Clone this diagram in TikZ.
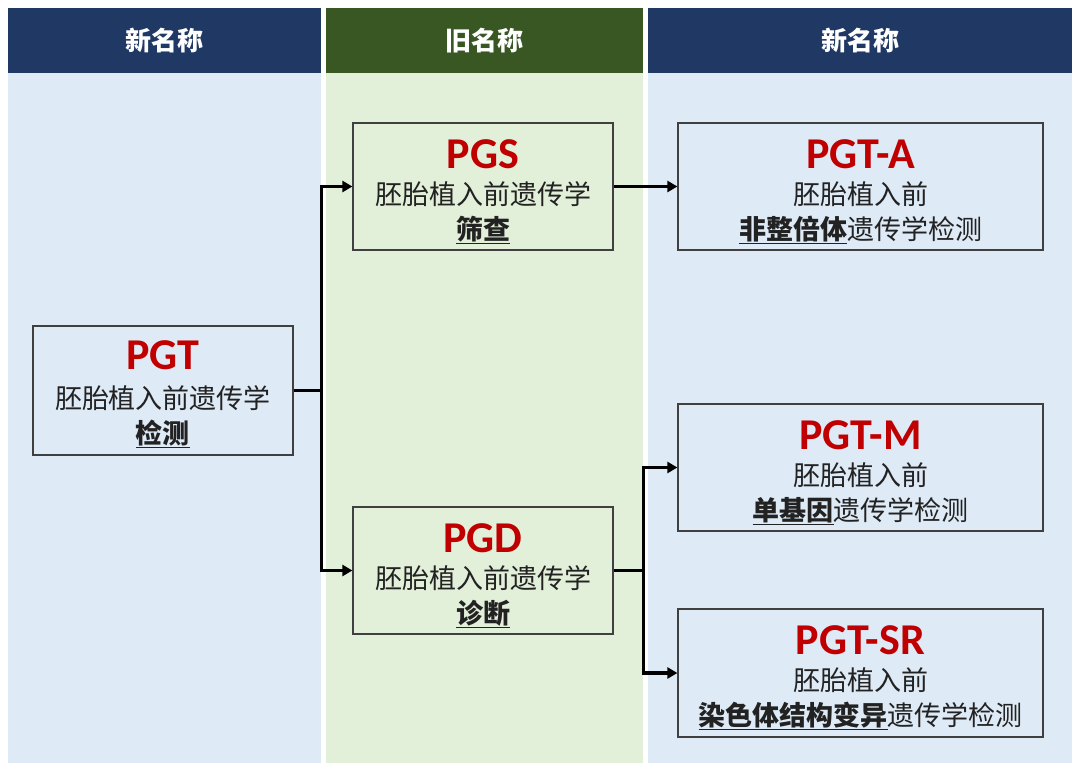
\documentclass[tikz,border=0pt]{standalone}
\usepackage{fontspec}
\setmainfont{Carlito}
\newfontfamily\cjk{Noto Sans CJK SC}
\usetikzlibrary{arrows.meta}
\definecolor{navy}{HTML}{1F3864}
\definecolor{hgreen}{HTML}{385723}
\definecolor{bblue}{HTML}{DEEAF6}
\definecolor{bgreen}{HTML}{E2EFD9}
\definecolor{tred}{HTML}{C00000}
\definecolor{bord}{HTML}{404040}
\definecolor{txt}{HTML}{222222}
\newcommand\ulb[1]{\setbox0\hbox{\bfseries #1}\rlap{\rule[-5pt]{\wd0}{1.8pt}}\box0}
\tikzset{
  hdr/.style={text=white,font=\cjk\bfseries\fontsize{26}{26}\selectfont},
  cbox/.style={draw=bord,line width=1.2pt,inner sep=0pt},
  ttl/.style={anchor=base,text=tred,font=\bfseries\fontsize{44}{44}\selectfont,inner sep=0pt},
  body/.style={anchor=base,text=txt,align=center,font=\cjk\fontsize{27}{35}\selectfont,inner sep=0pt},
  conn/.style={line width=3.5pt,black},
  arr/.style={line width=3.5pt,black,-{Triangle[length=10pt,width=11pt]}}
}
\begin{document}
\begin{tikzpicture}[x=1pt,y=-1pt]
\path[use as bounding box,fill=white] (0,0) rectangle (1080,776);
% columns
\fill[bblue] (8,73) rectangle (321,763);
\fill[navy] (8,8) rectangle (321,73);
\fill[bgreen] (326,73) rectangle (643,763);
\fill[hgreen] (326,8) rectangle (643,73);
\fill[bblue] (648,73) rectangle (1072,763);
\fill[navy] (648,8) rectangle (1072,73);
\node[hdr] (h1) at (164.5,41) {新名称};
\node[hdr] (h2) at (484.5,41) {旧名称};
\node[hdr] (h3) at (860,41) {新名称};
% boxes
\node[cbox,fill=bblue,minimum width=260pt,minimum height=129pt] (pgt) at (163,390.5) {};
\node[cbox,fill=bgreen,minimum width=260pt,minimum height=127pt] (pgs) at (483,186.5) {};
\node[cbox,fill=bgreen,minimum width=260pt,minimum height=127pt] (pgd) at (483,570.5) {};
\node[cbox,fill=bblue,minimum width=365pt,minimum height=127pt] (pgta) at (860.5,186.5) {};
\node[cbox,fill=bblue,minimum width=365pt,minimum height=127pt] (pgtm) at (860.5,467.5) {};
\node[cbox,fill=bblue,minimum width=365pt,minimum height=128pt] (pgtsr) at (860.5,673) {};
% texts
\node[ttl] (pgtT) at ([yshift=-44pt]pgt.north) {PGT};
\node[body] (pgtL) at ([yshift=-118pt]pgt.north) {胚胎植入前遗传学\\\ulb{检测}};
\node[ttl] (pgsT) at ([yshift=-46pt]pgs.north) {PGS};
\node[body] (pgsL) at ([yshift=-117pt]pgs.north) {胚胎植入前遗传学\\\ulb{筛查}};
\node[ttl] (pgdT) at ([yshift=-46pt]pgd.north) {PGD};
\node[body] (pgdL) at ([yshift=-117pt]pgd.north) {胚胎植入前遗传学\\\ulb{诊断}};
\node[ttl] (pgtaT) at ([yshift=-46pt]pgta.north) {PGT-A};
\node[body] (pgtaL) at ([yshift=-117pt]pgta.north) {胚胎植入前\\\ulb{非整倍体}遗传学检测};
\node[ttl] (pgtmT) at ([yshift=-46pt]pgtm.north) {PGT-M};
\node[body] (pgtmL) at ([yshift=-117pt]pgtm.north) {胚胎植入前\\\ulb{单基因}遗传学检测};
\node[ttl] (pgtsrT) at ([yshift=-46pt]pgtsr.north) {PGT-SR};
\node[body] (pgtsrL) at ([yshift=-117pt]pgtsr.north) {胚胎植入前\\\ulb{染色体结构变异}遗传学检测};
% connectors
\coordinate (j1) at (323,390.5);
\coordinate (j2) at (645,570.5);
\draw[conn] (pgt.east) -- (j1);
\draw[arr] ([xshift=-1.75pt]j1) |- (pgs.west);
\draw[arr] ([xshift=-1.75pt]j1) |- (pgd.west);
\draw[arr] (pgs.east) -- (pgta.west);
\draw[conn] (pgd.east) -- (j2);
\draw[arr] ([xshift=-1.75pt]j2) |- (pgtm.west);
\draw[arr] ([xshift=-1.75pt]j2) |- (pgtsr.west);
\end{tikzpicture}
\end{document}
